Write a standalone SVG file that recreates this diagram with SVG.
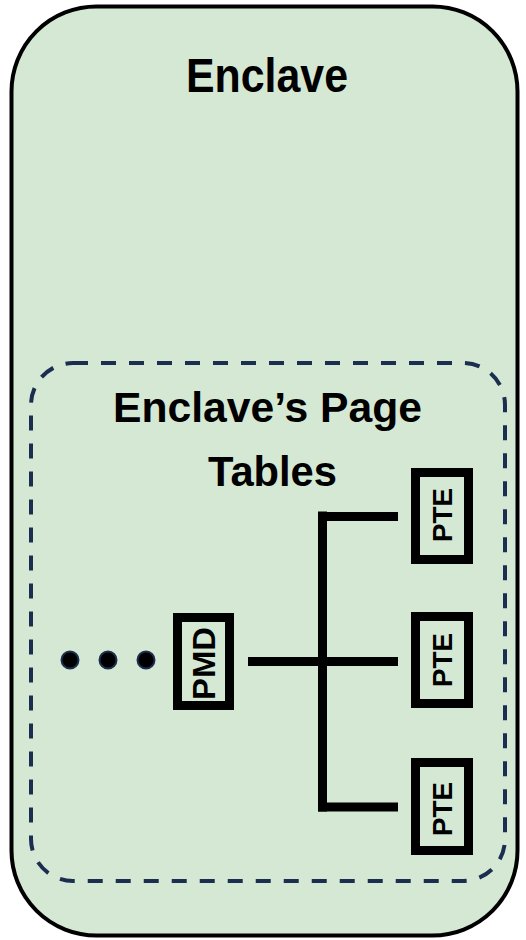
<svg xmlns="http://www.w3.org/2000/svg" width="526" height="940" viewBox="0 0 526 940">
<style>
.t{font-family:"Liberation Sans",Arial,sans-serif;font-weight:bold;fill:#000;text-anchor:middle}
.box{fill:none;stroke:#000;stroke-width:9}
.ln{stroke:#000;stroke-width:9;fill:none}
.dot{fill:#000;stroke:#1b2e50;stroke-width:2}
</style>
<rect width="526" height="940" fill="#ffffff"/>
<g id="enclave">
<rect x="11.5" y="6.5" width="506" height="929" rx="85" ry="85" fill="#d5e8d4" stroke="#000" stroke-width="4"/>
<text class="t" x="267" y="92" font-size="48" textLength="162" lengthAdjust="spacingAndGlyphs">Enclave</text>
</g>
<g id="page-tables">
<rect x="31" y="363" width="474" height="518" rx="42" ry="42" fill="none" stroke="#1b2e50" stroke-width="4" stroke-dasharray="15 13"/>
<text class="t" x="267.5" y="422" font-size="43" textLength="309" lengthAdjust="spacingAndGlyphs">Enclave’s Page</text>
<text class="t" x="272.5" y="486" font-size="43" textLength="129" lengthAdjust="spacingAndGlyphs">Tables</text>
</g>
<g id="dots">
<circle class="dot" cx="70" cy="660" r="8.5"/>
<circle class="dot" cx="108" cy="660" r="8.5"/>
<circle class="dot" cx="146" cy="660" r="8.5"/>
</g>
<g id="connectors">
<line class="ln" x1="248" y1="661.5" x2="398" y2="661.5"/>
<line class="ln" x1="322.5" y1="511.5" x2="322.5" y2="811.5"/>
<line class="ln" x1="318" y1="516.5" x2="398" y2="516.5"/>
<line class="ln" x1="318" y1="807" x2="398" y2="807"/>
</g>
<g id="pmd">
<rect class="box" x="177.5" y="617.5" width="52" height="88"/>
<text class="t" transform="translate(215,663.5) rotate(-90)" x="0" y="0" font-size="32" textLength="73" lengthAdjust="spacingAndGlyphs">PMD</text>
</g>
<g id="pte1">
<rect class="box" x="415.5" y="472.5" width="53" height="87"/>
<text class="t" transform="translate(452,515) rotate(-90)" x="0" y="0" font-size="27" textLength="54" lengthAdjust="spacingAndGlyphs">PTE</text>
</g>
<g id="pte2">
<rect class="box" x="415.5" y="616.5" width="53" height="87"/>
<text class="t" transform="translate(452,660) rotate(-90)" x="0" y="0" font-size="27" textLength="54" lengthAdjust="spacingAndGlyphs">PTE</text>
</g>
<g id="pte3">
<rect class="box" x="415.5" y="762.5" width="53" height="88"/>
<text class="t" transform="translate(452,809) rotate(-90)" x="0" y="0" font-size="27" textLength="54" lengthAdjust="spacingAndGlyphs">PTE</text>
</g>
</svg>
